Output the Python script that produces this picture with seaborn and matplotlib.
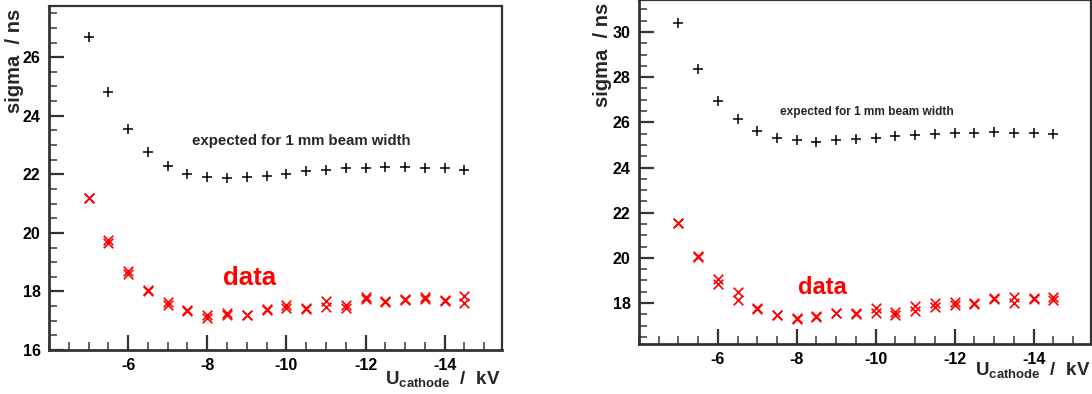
import numpy as np
import pandas as pd
import seaborn as sns
import matplotlib.pyplot as plt
from matplotlib.ticker import MultipleLocator, FixedLocator

u_cathode = [-5, -5.5, -6, -6.5, -7, -7.5, -8, -8.5, -9, -9.5,
             -10, -10.5, -11, -11.5, -12, -12.5, -13, -13.5, -14, -14.5]
x_major = [-6, -8, -10, -12, -14]

# left panel
left_expected = [26.7, 24.8, 23.55, 22.75, 22.28, 22.02, 21.9, 21.88, 21.9, 21.95,
                 22.02, 22.1, 22.15, 22.2, 22.22, 22.25, 22.25, 22.23, 22.2, 22.16]
left_data_a = [21.2, 19.75, 18.7, 18.05, 17.65, 17.35, 17.2, 17.25, 17.2, 17.4,
               17.55, 17.42, 17.67, 17.55, 17.8, 17.67, 17.75, 17.8, 17.72, 17.86]
left_data_b = [21.2, 19.65, 18.6, 18.0, 17.55, 17.32, 17.1, 17.2, 17.18, 17.35,
               17.45, 17.4, 17.47, 17.45, 17.75, 17.63, 17.7, 17.75, 17.66, 17.59]

# right panel
right_expected = [30.38, 28.35, 26.96, 26.13, 25.6, 25.32, 25.2, 25.15, 25.2, 25.25,
                  25.3, 25.4, 25.45, 25.5, 25.55, 25.55, 25.57, 25.55, 25.52, 25.5]
right_data_a = [21.53, 20.08, 19.07, 18.5, 17.8, 17.48, 17.36, 17.43, 17.58, 17.55,
                17.78, 17.62, 17.88, 18.0, 18.03, 18.0, 18.22, 18.29, 18.22, 18.29]
right_data_b = [21.53, 20.04, 18.85, 18.15, 17.74, 17.46, 17.3, 17.38, 17.56, 17.53,
                17.58, 17.47, 17.63, 17.82, 17.92, 17.98, 18.18, 18.0, 18.2, 18.12]

sns.set_style('white')
plt.rcParams['font.family'] = ['Liberation Sans', 'DejaVu Sans']
plt.rcParams['font.weight'] = 'bold'
plt.rcParams['mathtext.default'] = 'regular'
plt.rcParams['axes.unicode_minus'] = False

fig = plt.figure(figsize=(10.92, 3.94), dpi=100)
ax1 = fig.add_axes([0.0449, 0.1117, 0.4148, 0.8731])
ax2 = fig.add_axes([0.585, 0.127, 0.414, 0.872])

# ax, expected, data a, data b, ylim, expected text pos, its size, data text pos, its size
panels = [
    (ax1, left_expected, left_data_a, left_data_b, (16, 27.75), (-7.62, 23.13), 10.8, (-9.08, 18.46), 18.5),
    (ax2, right_expected, right_data_a, right_data_b, (16.19, 31.4), (-7.58, 26.46), 8.6, (-8.64, 18.67), 17),
]

for ax, expd, da, db, ylim, etxt, efs, dtxt, dfs in panels:
    df = pd.DataFrame({'u': u_cathode, 'expected': expd, 'a': da, 'b': db})
    sns.scatterplot(data=df, x='u', y='expected', marker='+', s=60, color='black',
                    linewidth=1.1, ax=ax)
    sns.scatterplot(data=df, x='u', y='a', marker='x', s=48, color='red',
                    linewidth=1.2, ax=ax)
    sns.scatterplot(data=df, x='u', y='b', marker='x', s=48, color='red',
                    linewidth=1.2, ax=ax)
    ax.set_xlim(-4, -15.45)
    ax.set_ylim(*ylim)
    ax.xaxis.set_major_locator(FixedLocator(x_major))
    ax.xaxis.set_minor_locator(MultipleLocator(0.5))
    ax.yaxis.set_major_locator(MultipleLocator(2))
    ax.yaxis.set_minor_locator(MultipleLocator(0.5))
    ax.tick_params(which='both', bottom=True, left=True, top=False, right=False)
    ax.tick_params(which='major', direction='in', length=11, width=1.6, labelsize=11.5,
                   colors='#333333', labelcolor='black', pad=6)
    ax.tick_params(which='minor', direction='in', length=5.5, width=1.3, colors='#555555')
    for side in ['left', 'bottom']:
        ax.spines[side].set_linewidth(2)
        ax.spines[side].set_color('#333333')
    for side in ['top', 'right']:
        ax.spines[side].set_linewidth(1.6)
        ax.spines[side].set_color('#333333')
    for lab in ax.get_xticklabels() + ax.get_yticklabels():
        lab.set_fontweight('bold')
    ax.set_xlabel('')
    ax.set_ylabel('')
    ax.text(etxt[0], etxt[1], 'expected for 1 mm beam width', fontsize=efs,
            fontweight='bold', ha='left', va='center')
    ax.text(dtxt[0], dtxt[1], 'data', fontsize=dfs, fontweight='bold', color='red',
            ha='center', va='center')

# axis titles, placed in figure pixels
W, H = 1092, 394
fig.text(15 / W, 1 - 9 / H, 'sigma  / ns', rotation=90, ha='center', va='top',
         fontsize=14.5, fontweight='bold')
fig.text(603 / W, 1 - 3 / H, 'sigma  / ns', rotation=90, ha='center', va='top',
         fontsize=14.5, fontweight='bold')
fig.text(500 / W, 1 - 384 / H, r'$U_{cathode}$  /  kV', ha='right', va='baseline',
         fontsize=13.5, fontweight='bold')
fig.text(1090 / W, 1 - 375 / H, r'$U_{cathode}$  /  kV', ha='right', va='baseline',
         fontsize=13.5, fontweight='bold')

fig.savefig('out.png', dpi=100)
